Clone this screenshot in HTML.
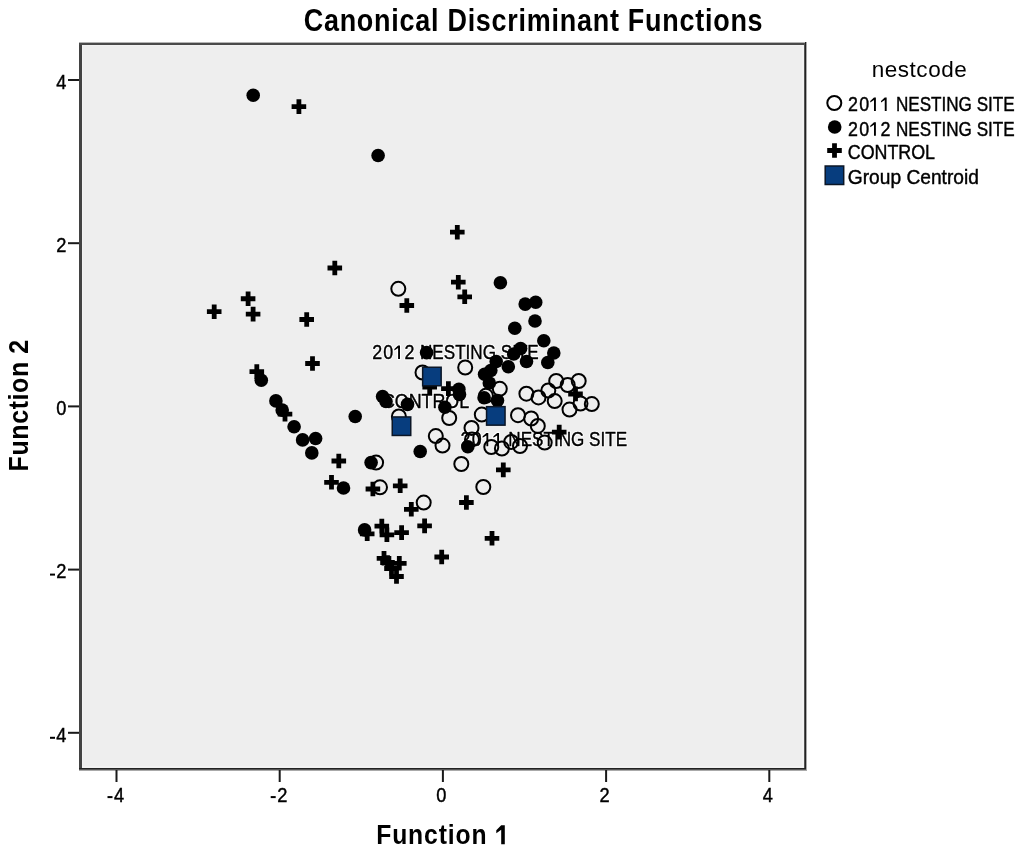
<!DOCTYPE html>
<html><head><meta charset="utf-8"><style>
html,body{margin:0;padding:0;background:#fff;width:1024px;height:851px;overflow:hidden}
svg{display:block;filter:blur(0.35px)}
text{font-family:"Liberation Sans",sans-serif;fill:#000;font-kerning:none}
.tk{font-size:18.8px;stroke:#000;stroke-width:0.4px}
.lb{font-size:18.8px;stroke:#000;stroke-width:0.4px}
.lbh{font-size:18.8px;fill:#fff;stroke:#fff;stroke-width:2.2px;stroke-linejoin:round}
.lg{font-size:18.8px;stroke:#000;stroke-width:0.4px}
.lt{font-size:22.5px;letter-spacing:0.55px}
.ttl{font-size:28.4px;font-weight:bold}
.ax{font-size:26px;font-weight:bold}
</style></head><body>
<svg width="1024" height="851" viewBox="0 0 1024 851">
<rect x="80" y="43" width="725" height="726" fill="#eeeeee"/>
<rect x="82" y="45" width="721" height="722" fill="none" stroke="#f6f6f6" stroke-width="1.2"/>
<rect x="79" y="43" width="3" height="727" fill="#424242"/>
<rect x="79" y="42" width="728" height="1" fill="#b4b4b4"/>
<rect x="79" y="43" width="727" height="2" fill="#4a4a4a"/>
<rect x="804" y="43" width="1" height="727" fill="#555"/>
<rect x="805" y="42" width="1" height="728" fill="#222"/>
<rect x="806" y="42" width="1" height="729" fill="#aaa"/>
<rect x="79" y="768" width="727" height="1" fill="#222"/>
<rect x="79" y="769" width="727" height="1" fill="#555"/>
<rect x="79" y="770" width="728" height="1" fill="#aaa"/>
<rect x="115.5" y="770" width="2" height="12" fill="#1a1a1a"/>
<text transform="translate(119.1 801.6) scale(0.97 1.06)" class="tk" text-anchor="middle">4</text>
<rect x="107.5" y="796.1" width="5" height="2" fill="#000"/>
<rect x="278.7" y="770" width="2" height="12" fill="#1a1a1a"/>
<text transform="translate(282.3 801.6) scale(0.97 1.06)" class="tk" text-anchor="middle">2</text>
<rect x="270.7" y="796.1" width="5" height="2" fill="#000"/>
<rect x="441.9" y="770" width="2" height="12" fill="#1a1a1a"/>
<text transform="translate(441.4 801.6) scale(0.97 1.06)" class="tk" text-anchor="middle">0</text>
<rect x="605.1" y="770" width="2" height="12" fill="#1a1a1a"/>
<text transform="translate(604.6 801.6) scale(0.97 1.06)" class="tk" text-anchor="middle">2</text>
<rect x="768.3" y="770" width="2" height="12" fill="#1a1a1a"/>
<text transform="translate(767.8 801.6) scale(0.97 1.06)" class="tk" text-anchor="middle">4</text>
<rect x="68" y="79.0" width="11" height="2" fill="#1a1a1a"/>
<text transform="translate(66.3 88.8) scale(0.97 1.06)" class="tk" text-anchor="end">4</text>
<rect x="68" y="242.2" width="11" height="2" fill="#1a1a1a"/>
<text transform="translate(66.3 252.0) scale(0.97 1.06)" class="tk" text-anchor="end">2</text>
<rect x="68" y="405.4" width="11" height="2" fill="#1a1a1a"/>
<text transform="translate(66.3 415.2) scale(0.97 1.06)" class="tk" text-anchor="end">0</text>
<rect x="68" y="568.6" width="11" height="2" fill="#1a1a1a"/>
<text transform="translate(66.3 578.4) scale(0.97 1.06)" class="tk" text-anchor="end">2</text>
<rect x="50" y="573.6" width="5" height="2" fill="#000"/>
<rect x="68" y="731.8" width="11" height="2" fill="#1a1a1a"/>
<text transform="translate(66.3 741.6) scale(0.97 1.06)" class="tk" text-anchor="end">4</text>
<rect x="50" y="736.8" width="5" height="2" fill="#000"/>
<g><text transform="translate(372.20 358.90) scale(0.95 1.06)" class="lbh" text-anchor="start">2</text><text transform="translate(383.37 358.90) scale(0.95 1.06)" class="lbh" text-anchor="start">0</text><path d="M398.09 345.50H399.99V358.90H398.09V348.00L394.34 350.40V348.90Z" fill="#fff" stroke="#fff" stroke-width="2.2" stroke-linejoin="round"/><text transform="translate(404.51 358.90) scale(0.95 1.06)" class="lbh" text-anchor="start">2</text><text transform="translate(420.00 358.90) scale(0.91 1.06)" class="lbh" text-anchor="start">NESTING SITE</text><text transform="translate(381.90 408.40) scale(0.95 1.06)" class="lbh" text-anchor="start">CONTROL</text><text transform="translate(460.50 446.30) scale(0.95 1.06)" class="lbh" text-anchor="start">2</text><text transform="translate(471.67 446.30) scale(0.95 1.06)" class="lbh" text-anchor="start">0</text><path d="M486.39 432.90H488.29V446.30H486.39V435.40L482.64 437.80V436.30Z" fill="#fff" stroke="#fff" stroke-width="2.2" stroke-linejoin="round"/><path d="M497.16 432.90H499.06V446.30H497.16V435.40L493.41 437.80V436.30Z" fill="#fff" stroke="#fff" stroke-width="2.2" stroke-linejoin="round"/><text transform="translate(508.30 446.30) scale(0.91 1.06)" class="lbh" text-anchor="start">NESTING SITE</text></g>
<text transform="translate(372.20 358.90) scale(0.95 1.06)" class="lb" text-anchor="start">2</text><text transform="translate(383.37 358.90) scale(0.95 1.06)" class="lb" text-anchor="start">0</text><path d="M398.09 345.50H399.99V358.90H398.09V348.00L394.34 350.40V348.90Z" fill="#000"/><text transform="translate(404.51 358.90) scale(0.95 1.06)" class="lb" text-anchor="start">2</text><text transform="translate(420.00 358.90) scale(0.91 1.06)" class="lb" text-anchor="start">NESTING SITE</text><text transform="translate(381.90 408.40) scale(0.95 1.06)" class="lb" text-anchor="start">CONTROL</text><text transform="translate(460.50 446.30) scale(0.95 1.06)" class="lb" text-anchor="start">2</text><text transform="translate(471.67 446.30) scale(0.95 1.06)" class="lb" text-anchor="start">0</text><path d="M486.39 432.90H488.29V446.30H486.39V435.40L482.64 437.80V436.30Z" fill="#000"/><path d="M497.16 432.90H499.06V446.30H497.16V435.40L493.41 437.80V436.30Z" fill="#000"/><text transform="translate(508.30 446.30) scale(0.91 1.06)" class="lb" text-anchor="start">NESTING SITE</text>
<g><circle cx="398.3" cy="288.8" r="7.0" fill="none" stroke="#000" stroke-width="2"/><circle cx="465.2" cy="367.5" r="7.0" fill="none" stroke="#000" stroke-width="2"/><circle cx="422.5" cy="372.5" r="7.0" fill="none" stroke="#000" stroke-width="2"/><circle cx="499.8" cy="388.8" r="7.0" fill="none" stroke="#000" stroke-width="2"/><circle cx="485.9" cy="395.8" r="7.0" fill="none" stroke="#000" stroke-width="2"/><circle cx="526.4" cy="393.7" r="7.0" fill="none" stroke="#000" stroke-width="2"/><circle cx="538.5" cy="397.4" r="7.0" fill="none" stroke="#000" stroke-width="2"/><circle cx="548.3" cy="390.5" r="7.0" fill="none" stroke="#000" stroke-width="2"/><circle cx="556.2" cy="381" r="7.0" fill="none" stroke="#000" stroke-width="2"/><circle cx="567.7" cy="385" r="7.0" fill="none" stroke="#000" stroke-width="2"/><circle cx="578.7" cy="381" r="7.0" fill="none" stroke="#000" stroke-width="2"/><circle cx="554.7" cy="401.1" r="7.0" fill="none" stroke="#000" stroke-width="2"/><circle cx="569.5" cy="409.6" r="7.0" fill="none" stroke="#000" stroke-width="2"/><circle cx="591.8" cy="404.1" r="7.0" fill="none" stroke="#000" stroke-width="2"/><circle cx="580.5" cy="403.5" r="7.0" fill="none" stroke="#000" stroke-width="2"/><circle cx="481.8" cy="414.6" r="7.0" fill="none" stroke="#000" stroke-width="2"/><circle cx="518" cy="415.2" r="7.0" fill="none" stroke="#000" stroke-width="2"/><circle cx="531.2" cy="418.5" r="7.0" fill="none" stroke="#000" stroke-width="2"/><circle cx="537.8" cy="425.9" r="7.0" fill="none" stroke="#000" stroke-width="2"/><circle cx="449.2" cy="418" r="7.0" fill="none" stroke="#000" stroke-width="2"/><circle cx="398.9" cy="416.5" r="7.0" fill="none" stroke="#000" stroke-width="2"/><circle cx="471.5" cy="427.9" r="7.0" fill="none" stroke="#000" stroke-width="2"/><circle cx="472" cy="439.4" r="7.0" fill="none" stroke="#000" stroke-width="2"/><circle cx="435.8" cy="436.1" r="7.0" fill="none" stroke="#000" stroke-width="2"/><circle cx="442.5" cy="445.6" r="7.0" fill="none" stroke="#000" stroke-width="2"/><circle cx="491.3" cy="447" r="7.0" fill="none" stroke="#000" stroke-width="2"/><circle cx="501.9" cy="448.5" r="7.0" fill="none" stroke="#000" stroke-width="2"/><circle cx="511.2" cy="441.9" r="7.0" fill="none" stroke="#000" stroke-width="2"/><circle cx="520" cy="446" r="7.0" fill="none" stroke="#000" stroke-width="2"/><circle cx="544.7" cy="442.6" r="7.0" fill="none" stroke="#000" stroke-width="2"/><circle cx="461.3" cy="464" r="7.0" fill="none" stroke="#000" stroke-width="2"/><circle cx="483.3" cy="487" r="7.0" fill="none" stroke="#000" stroke-width="2"/><circle cx="376.1" cy="462.6" r="7.0" fill="none" stroke="#000" stroke-width="2"/><circle cx="380" cy="487.3" r="7.0" fill="none" stroke="#000" stroke-width="2"/><circle cx="423.7" cy="502.6" r="7.0" fill="none" stroke="#000" stroke-width="2"/><circle cx="253.2" cy="95.3" r="6.8" fill="#000"/><circle cx="378.1" cy="155.5" r="6.8" fill="#000"/><circle cx="500.4" cy="282.8" r="6.8" fill="#000"/><circle cx="525.2" cy="304.1" r="6.8" fill="#000"/><circle cx="535.7" cy="302.3" r="6.8" fill="#000"/><circle cx="535" cy="321" r="6.8" fill="#000"/><circle cx="514.8" cy="328.2" r="6.8" fill="#000"/><circle cx="543.8" cy="340.8" r="6.8" fill="#000"/><circle cx="520.6" cy="348.5" r="6.8" fill="#000"/><circle cx="553.8" cy="353" r="6.8" fill="#000"/><circle cx="547.8" cy="362.5" r="6.8" fill="#000"/><circle cx="526.5" cy="361.5" r="6.8" fill="#000"/><circle cx="426.6" cy="352.6" r="6.8" fill="#000"/><circle cx="496.2" cy="361.5" r="6.8" fill="#000"/><circle cx="508.3" cy="366.7" r="6.8" fill="#000"/><circle cx="484.6" cy="374.2" r="6.8" fill="#000"/><circle cx="489.3" cy="383" r="6.8" fill="#000"/><circle cx="490.8" cy="370.5" r="6.8" fill="#000"/><circle cx="484.1" cy="397.8" r="6.8" fill="#000"/><circle cx="497.5" cy="400.5" r="6.8" fill="#000"/><circle cx="458.9" cy="389.2" r="6.8" fill="#000"/><circle cx="459.5" cy="394.5" r="6.8" fill="#000"/><circle cx="444.9" cy="407.3" r="6.8" fill="#000"/><circle cx="407.5" cy="404.4" r="6.8" fill="#000"/><circle cx="382.6" cy="396.5" r="6.8" fill="#000"/><circle cx="386" cy="401.5" r="6.8" fill="#000"/><circle cx="355.2" cy="416.5" r="6.8" fill="#000"/><circle cx="261.3" cy="380.3" r="6.8" fill="#000"/><circle cx="275.9" cy="400.9" r="6.8" fill="#000"/><circle cx="282.2" cy="410.1" r="6.8" fill="#000"/><circle cx="294.1" cy="426.8" r="6.8" fill="#000"/><circle cx="302.6" cy="439.9" r="6.8" fill="#000"/><circle cx="315.6" cy="438.5" r="6.8" fill="#000"/><circle cx="311.8" cy="452.9" r="6.8" fill="#000"/><circle cx="371.1" cy="462.6" r="6.8" fill="#000"/><circle cx="420.2" cy="451.5" r="6.8" fill="#000"/><circle cx="343.5" cy="488" r="6.8" fill="#000"/><circle cx="364.6" cy="529.9" r="6.8" fill="#000"/><circle cx="467.8" cy="446.8" r="6.8" fill="#000"/><circle cx="513.7" cy="354" r="6.8" fill="#000"/><path d="M291.60 104.20h14.6v4.8h-14.6zM296.50 99.30h4.8v14.6h-4.8zM450.00 229.80h14.6v4.8h-14.6zM454.90 224.90h4.8v14.6h-4.8zM327.50 265.60h14.6v4.8h-14.6zM332.40 260.70h4.8v14.6h-4.8zM240.80 296.35h14.6v4.8h-14.6zM245.70 291.45h4.8v14.6h-4.8zM206.90 309.30h14.6v4.8h-14.6zM211.80 304.40h4.8v14.6h-4.8zM245.80 311.70h14.6v4.8h-14.6zM250.70 306.80h4.8v14.6h-4.8zM299.40 317.10h14.6v4.8h-14.6zM304.30 312.20h4.8v14.6h-4.8zM451.00 279.80h14.6v4.8h-14.6zM455.90 274.90h4.8v14.6h-4.8zM457.40 294.40h14.6v4.8h-14.6zM462.30 289.50h4.8v14.6h-4.8zM399.50 303.10h14.6v4.8h-14.6zM404.40 298.20h4.8v14.6h-4.8zM305.20 361.10h14.6v4.8h-14.6zM310.10 356.20h4.8v14.6h-4.8zM249.50 369.20h14.6v4.8h-14.6zM254.40 364.30h4.8v14.6h-4.8zM277.70 411.80h14.6v4.8h-14.6zM282.60 406.90h4.8v14.6h-4.8zM331.50 458.60h14.6v4.8h-14.6zM336.40 453.70h4.8v14.6h-4.8zM324.20 479.90h14.6v4.8h-14.6zM329.10 475.00h4.8v14.6h-4.8zM365.60 486.60h14.6v4.8h-14.6zM370.50 481.70h4.8v14.6h-4.8zM392.90 483.40h14.6v4.8h-14.6zM397.80 478.50h4.8v14.6h-4.8zM404.00 506.90h14.6v4.8h-14.6zM408.90 502.00h4.8v14.6h-4.8zM417.30 523.50h14.6v4.8h-14.6zM422.20 518.60h4.8v14.6h-4.8zM359.90 531.40h14.6v4.8h-14.6zM364.80 526.50h4.8v14.6h-4.8zM374.50 523.70h14.6v4.8h-14.6zM379.40 518.80h4.8v14.6h-4.8zM379.60 532.40h14.6v4.8h-14.6zM384.50 527.50h4.8v14.6h-4.8zM394.30 530.20h14.6v4.8h-14.6zM399.20 525.30h4.8v14.6h-4.8zM434.40 554.60h14.6v4.8h-14.6zM439.30 549.70h4.8v14.6h-4.8zM376.70 555.90h14.6v4.8h-14.6zM381.60 551.00h4.8v14.6h-4.8zM380.20 560.10h14.6v4.8h-14.6zM385.10 555.20h4.8v14.6h-4.8zM384.20 566.10h14.6v4.8h-14.6zM389.10 561.20h4.8v14.6h-4.8zM392.00 560.90h14.6v4.8h-14.6zM396.90 556.00h4.8v14.6h-4.8zM389.20 574.10h14.6v4.8h-14.6zM394.10 569.20h4.8v14.6h-4.8zM459.10 500.10h14.6v4.8h-14.6zM464.00 495.20h4.8v14.6h-4.8zM496.00 467.50h14.6v4.8h-14.6zM500.90 462.60h4.8v14.6h-4.8zM484.70 535.90h14.6v4.8h-14.6zM489.60 531.00h4.8v14.6h-4.8zM551.90 429.70h14.6v4.8h-14.6zM556.80 424.80h4.8v14.6h-4.8zM422.40 384.80h14.6v4.8h-14.6zM427.30 379.90h4.8v14.6h-4.8zM441.10 386.20h14.6v4.8h-14.6zM446.00 381.30h4.8v14.6h-4.8zM568.20 391.60h14.6v4.8h-14.6zM573.10 386.70h4.8v14.6h-4.8z" fill="#000"/></g>
<g><rect x="422.65" y="367.25" width="18.5" height="18.5" fill="#073d7e" stroke="#0b1626" stroke-width="1.5"/><rect x="392.25" y="416.95" width="18.5" height="18.5" fill="#073d7e" stroke="#0b1626" stroke-width="1.5"/><rect x="486.55" y="406.65" width="18.5" height="18.5" fill="#073d7e" stroke="#0b1626" stroke-width="1.5"/></g>
<text transform="translate(533.50 30.80) scale(0.95 1.09)" class="ttl" text-anchor="middle" style="letter-spacing:0.78px">Canonical Discriminant Functions</text>
<text transform="translate(376.20 844.30) scale(0.95 1.04)" class="ax" text-anchor="start" style="letter-spacing:0.93px">Function</text>
<path d="M501.2 825.2H504.8V844.3H501.2V829.7L496.3 833.3V830.2Z" fill="#000"/>
<text transform="translate(28.4 405.3) rotate(-90) scale(0.96 1.04)" class="ax" text-anchor="middle" style="letter-spacing:0.63px">Function 2</text>
<text x="919.5" y="77" class="lt" text-anchor="middle">nestcode</text>
<circle cx="834.3" cy="103" r="7.0" fill="none" stroke="#000" stroke-width="2"/>
<circle cx="834.7" cy="127" r="6.8" fill="#000"/>
<path d="M827.20 148.10h14.6v4.8h-14.6zM832.10 143.20h4.8v14.6h-4.8z" fill="#000"/>
<rect x="825.2" y="166" width="18.5" height="18.5" fill="#073d7e" stroke="#0b1626" stroke-width="1.5"/>
<text transform="translate(848.10 110.90) scale(0.95 1.06)" class="lg" text-anchor="start">2</text><text transform="translate(859.27 110.90) scale(0.95 1.06)" class="lg" text-anchor="start">0</text><path d="M873.99 97.50H875.89V110.90H873.99V100.00L870.24 102.40V100.90Z" fill="#000"/><path d="M884.76 97.50H886.66V110.90H884.76V100.00L881.01 102.40V100.90Z" fill="#000"/><text transform="translate(895.90 110.90) scale(0.91 1.06)" class="lg" text-anchor="start">NESTING SITE</text>
<text transform="translate(848.10 135.70) scale(0.95 1.06)" class="lg" text-anchor="start">2</text><text transform="translate(859.27 135.70) scale(0.95 1.06)" class="lg" text-anchor="start">0</text><path d="M873.99 122.30H875.89V135.70H873.99V124.80L870.24 127.20V125.70Z" fill="#000"/><text transform="translate(880.41 135.70) scale(0.95 1.06)" class="lg" text-anchor="start">2</text><text transform="translate(895.90 135.70) scale(0.91 1.06)" class="lg" text-anchor="start">NESTING SITE</text>
<text transform="translate(847.80 158.80) scale(0.95 1.06)" class="lg" text-anchor="start">CONTROL</text>
<text transform="translate(847.80 184.00) scale(1.02 1.06)" class="lg" text-anchor="start">Group Centroid</text>
</svg>
</body></html>
